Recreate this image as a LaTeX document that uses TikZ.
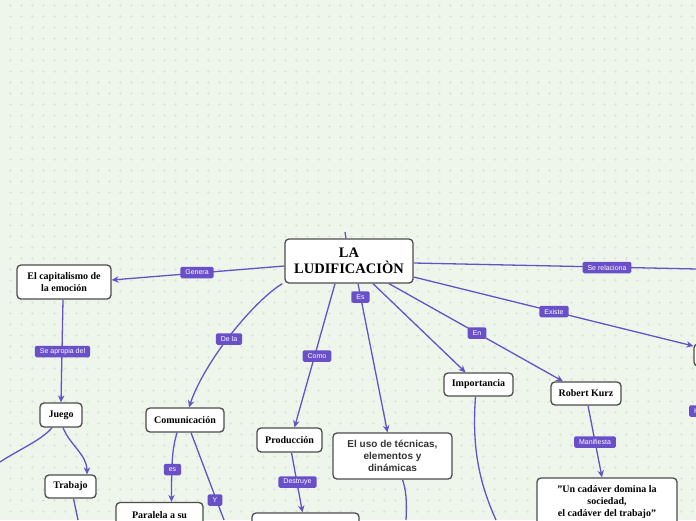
\documentclass[tikz,border=0pt]{standalone}
\usepackage{fontspec}
\setmainfont{Liberation Serif}
\newfontfamily\lsans{Liberation Sans}
\usetikzlibrary{arrows.meta}
\definecolor{bg}{HTML}{EEF6EC}
\definecolor{dotc}{HTML}{DBE7D9}
\definecolor{edge}{HTML}{6452C6}
\definecolor{lblc}{HTML}{6A50C8}
\definecolor{bord}{HTML}{4C4C4C}
\definecolor{sanstext}{HTML}{333333}
\begin{document}
\begin{tikzpicture}[x=1pt,y=-1pt,
  topic/.style={draw=bord, line width=1.3pt, fill=white, rounded corners=4pt, align=center,
    inner sep=0pt, font=\bfseries\fontsize{10}{12.5}\selectfont, text=black},
  lbl/.style={fill=lblc, text=white, rounded corners=1.5pt, inner xsep=5pt, inner ysep=0pt,
    minimum height=11.5pt, font=\lsans\fontsize{7}{8}\selectfont},
  conn/.style={draw=edge, line width=1.3pt},
  arr/.style={conn, -{Stealth[length=7pt,width=6.5pt]}}]
\useasboundingbox (0,0) rectangle (696,520);
\clip (0,0) rectangle (696,520);
\fill[bg] (0,0) rectangle (696,520);
\draw[dotc, line width=0.5pt] \foreach \i in {0,...,63}{\foreach \j in {0,...,47}{
  (10+11*\i-1.5,5+11*\j) -- ++(3,0) (10+11*\i,5+11*\j-1.5) -- ++(0,3)}};

% nodes
\node[topic, minimum width=128pt, minimum height=44pt, font=\bfseries\fontsize{14.5}{16}\selectfont]
  (main) at (349,261) {LA\\LUDIFICACIÒN};
\node[topic, minimum width=94pt, minimum height=34pt] (cap) at (64,282) {El capitalismo de\\la emoción};
\node[topic, minimum width=42pt, minimum height=24pt] (juego) at (61,415) {Juego};
\node[topic, minimum width=51pt, minimum height=23pt] (trab) at (70.5,486.5) {Trabajo};
\node[topic, minimum width=78pt, minimum height=24pt] (comm) at (185,420) {Comunicación};
\node[topic, minimum width=87pt, minimum height=26pt] (par) at (159.5,515.5) {Paralela a su};
\node[topic, minimum width=65pt, minimum height=24pt] (prod) at (289.5,440) {Producción};
\node[topic, minimum width=107pt, minimum height=30pt] (box2) at (305.5,528) {};
\node[topic, minimum width=119pt, minimum height=46pt, text=sanstext,
  font=\lsans\bfseries\fontsize{10}{11.7}\selectfont] (uso) at (392.5,456) {El uso de técnicas,\\elementos y\\dinámicas};
\node[topic, minimum width=69pt, minimum height=23pt] (imp) at (478.5,384.5) {Importancia};
\node[topic, minimum width=70pt, minimum height=23pt] (rk) at (586,393.5) {Robert Kurz};
\node[topic, minimum width=140pt, minimum height=48pt, font=\bfseries\fontsize{10}{11.7}\selectfont]
  (cad) at (607,502) {"Un cadáver domina la\\sociedad,\\el cadáver del trabajo"};
\node[topic, minimum width=46pt, minimum height=22pt] (rn) at (717,355) {};

% free ends
\coordinate (topend) at (345,232);
\coordinate (juegoL) at (0,462);
\coordinate (trabD) at (78,520);
\coordinate (commD) at (224,520);
\coordinate (usoD) at (406,520);
\coordinate (impD) at (496,520);
\coordinate (relR) at (697,269);

% connectors
\draw[conn] ([xshift=-3pt]main.north) -- (topend);
\draw[arr] ([yshift=-5pt]main.west) -- ([yshift=2pt]cap.east);
\draw[arr] ([xshift=-1pt]cap.south) -- (juego.north);
\draw[arr] ([xshift=2pt]juego.south) .. controls (70,445) and (87,455) .. ([xshift=16.5pt]trab.north);
\draw[conn] ([xshift=-9pt]juego.south) .. controls (42,440) and (18,450) .. (juegoL);
\draw[conn] ([xshift=3pt]trab.south) -- (trabD);
\draw[arr] ([xshift=-2pt]main.south west) .. controls (255,300) and (205,360) .. ([xshift=4pt]comm.north);
\draw[arr] ([xshift=-8pt]comm.south) .. controls (173,447) and (171.5,455) .. ([xshift=12pt]par.north);
\draw[conn] ([xshift=6pt]comm.south) -- (commD);
\draw[arr] ([xshift=-14pt]main.south) -- ([xshift=5pt]prod.north);
\draw[arr] ([xshift=2pt]prod.south) -- ([xshift=-3pt]box2.north);
\draw[arr] ([xshift=9pt]main.south) -- ([xshift=-5pt]uso.north);
\draw[conn] ([xshift=10pt]uso.south) .. controls (406,490) and (407,500) .. (usoD);
\draw[arr] ([xshift=24pt]main.south) -- ([xshift=-13pt]imp.north);
\draw[conn] ([xshift=-3pt]imp.south) .. controls (472,445) and (478,480) .. (impD);
\draw[arr] ([xshift=40pt]main.south) -- ([xshift=-23pt]rk.north);
\draw[arr] ([yshift=-16pt]main.east) -- ([yshift=9pt]rn.west);
\draw[conn] ([yshift=-2pt]main.east) -- (relR);
\draw[arr] ([xshift=2pt]rk.south) -- ([xshift=-5pt]cad.north);

% labels
\node[lbl] (lgen) at (197,272.5) {Genera};
\node[lbl] (lapr) at (62.5,351.5) {Se apropia del};
\node[lbl] (lde) at (229,339) {De la};
\node[lbl] (les) at (172.5,469.5) {es};
\node[lbl] (ly) at (215,500) {Y};
\node[lbl] (lcomo) at (317,356) {Como};
\node[lbl] (ldes) at (297.5,482) {Destruye};
\node[lbl] (lEs) at (360.5,297) {Es};
\node[lbl] (len) at (477,333) {En};
\node[lbl] (lexi) at (554,311.5) {Existe};
\node[lbl] (lrel) at (607,267.5) {Se relaciona};
\node[lbl] (lman) at (595,442) {Manifiesta};
\node[lbl, anchor=west, minimum width=20pt, align=left, text width=11pt] (lh) at (689,411) {H};
\end{tikzpicture}
\end{document}
